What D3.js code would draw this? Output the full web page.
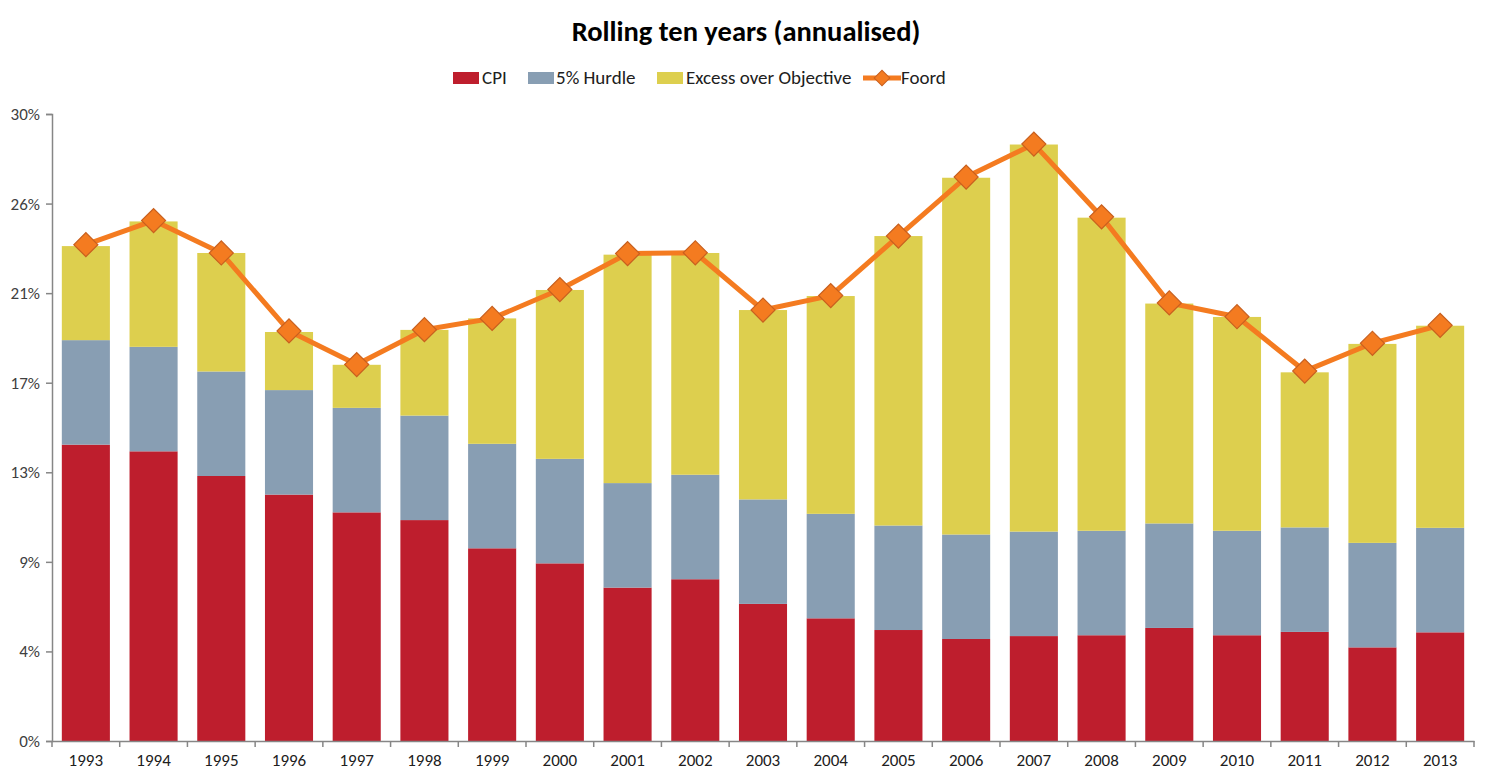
<!DOCTYPE html>
<html>
<head>
<meta charset="utf-8">
<script src="https://cdn.jsdelivr.net/npm/d3@7"></script>
<style>
  html, body { margin: 0; padding: 0; background: #fff; }
  svg { display: block; font-family: Carlito, Lato, "Open Sans", sans-serif; }
</style>
</head>
<body>
<svg id="chart" width="1492" height="782"></svg>
<script>
const years = ["1993","1994","1995","1996","1997","1998","1999","2000","2001","2002","2003","2004","2005","2006","2007","2008","2009","2010","2011","2012","2013"];
const cpi = [14.18, 13.86, 12.68, 11.79, 10.94, 10.57, 9.22, 8.50, 7.34, 7.74, 6.56, 5.87, 5.31, 4.88, 5.02, 5.06, 5.41, 5.06, 5.22, 4.48, 5.20];
const hurdle = [5, 5, 5, 5, 5, 5, 5, 5, 5, 5, 5, 5, 5, 5, 5, 5, 5, 5, 5, 5, 5];
const excess = [4.50, 6.00, 5.67, 2.78, 2.06, 4.10, 6.00, 8.08, 10.93, 10.61, 9.06, 10.42, 13.85, 17.07, 18.52, 14.98, 10.52, 10.23, 7.42, 9.52, 9.67];
const foord = [23.75, 24.90, 23.35, 19.62, 18.01, 19.68, 20.22, 21.60, 23.32, 23.36, 20.62, 21.31, 24.16, 26.98, 28.56, 25.08, 20.96, 20.30, 17.70, 19.03, 19.89];
const yTickValues = [0, 30/7, 60/7, 90/7, 120/7, 150/7, 180/7, 30];
const yTickLabels = ["0%","4%","9%","13%","17%","21%","26%","30%"];
const seriesNames = ["CPI", "5% Hurdle", "Excess over Objective", "Foord"];
const colors = ["#BE1E2D", "#889EB3", "#DDCF4E", "#F47B20"];

const svg = d3.select("#chart");
const m = { left: 52, right: 1474, top: 114, bottom: 741 };

const x = d3.scaleBand().domain(years).range([m.left, m.right]).paddingInner(0.29).paddingOuter(0.145);
const y = d3.scaleLinear().domain([0, 30]).range([m.bottom, m.top]);

const rows = years.map((yr, i) => ({ year: yr, cpi: cpi[i], hurdle: hurdle[i], excess: excess[i] }));
const stack = d3.stack().keys(["cpi", "hurdle", "excess"]);
const layers = stack(rows);

svg.append("g").selectAll("g").data(layers).join("g")
  .attr("fill", (d, i) => colors[i])
  .selectAll("rect").data(d => d).join("rect")
  .attr("x", d => x(d.data.year))
  .attr("width", x.bandwidth())
  .attr("y", d => y(d[1]))
  .attr("height", d => y(d[0]) - y(d[1]));

// Y axis
const yAxis = d3.axisLeft(y).tickValues(yTickValues).tickSize(6).tickPadding(6)
  .tickFormat((d, i) => yTickLabels[i]);
const gy = svg.append("g").attr("transform", `translate(${m.left},0)`).call(yAxis);
gy.select(".domain").attr("stroke", "#868686").attr("stroke-width", 1.5);
gy.selectAll(".tick line").attr("stroke", "#868686").attr("stroke-width", 1.5);
gy.selectAll(".tick text").attr("fill", "#404040").style("font-size", "17px")
  .style("font-family", "Carlito, Lato, sans-serif");

// X axis
const xAxis = d3.axisBottom(x).tickSize(0).tickPadding(13);
const gx = svg.append("g").attr("transform", `translate(0,${m.bottom})`).call(xAxis);
gx.select(".domain").attr("stroke", "#868686").attr("stroke-width", 1.5);
gx.selectAll(".tick text").attr("fill", "#202020").style("font-size", "17px")
  .style("font-family", "Carlito, Lato, sans-serif");
const bounds = years.map(yr => x(yr) - x.step() * x.paddingInner() / 2).concat([m.right]);
gx.append("g").selectAll("line").data(bounds).join("line")
  .attr("x1", d => d).attr("x2", d => d).attr("y1", 0).attr("y2", 6)
  .attr("stroke", "#868686").attr("stroke-width", 1.5);

// Foord line
const cx = yr => x(yr) + x.bandwidth() / 2;
const line = d3.line().x((d, i) => cx(years[i])).y(d => y(d));
svg.append("path").datum(foord).attr("d", line)
  .attr("fill", "none").attr("stroke", colors[3]).attr("stroke-width", 5)
  .attr("stroke-linejoin", "round");
svg.append("g").selectAll("rect").data(foord).join("rect")
  .attr("x", -8.5).attr("y", -8.5).attr("width", 17).attr("height", 17)
  .attr("transform", (d, i) => `translate(${cx(years[i])},${y(d)}) rotate(45)`)
  .attr("fill", colors[3]).attr("stroke", "#C8601F").attr("stroke-width", 1.2);

// Title
svg.append("text").attr("x", 746).attr("y", 41).attr("text-anchor", "middle")
  .style("font-size", "28.5px").style("font-weight", "bold").attr("fill", "#000")
  .text("Rolling ten years (annualised)");

// Legend
const legendItems = [
  { name: seriesNames[0], sx: 453, tx: 482, type: "box", c: colors[0] },
  { name: seriesNames[1], sx: 528, tx: 556, type: "box", c: colors[1] },
  { name: seriesNames[2], sx: 657, tx: 686, type: "box", c: colors[2] },
  { name: seriesNames[3], sx: 863, tx: 901, type: "line", c: colors[3] }
];
const lg = svg.append("g");
legendItems.forEach(it => {
  if (it.type === "box") {
    lg.append("rect").attr("x", it.sx).attr("y", 72).attr("width", 26).attr("height", 12).attr("fill", it.c);
  } else {
    lg.append("line").attr("x1", it.sx).attr("x2", it.sx + 38).attr("y1", 78).attr("y2", 78)
      .attr("stroke", it.c).attr("stroke-width", 5);
    lg.append("rect").attr("x", -5.5).attr("y", -5.5).attr("width", 11).attr("height", 11)
      .attr("transform", `translate(${it.sx + 19},78) rotate(45)`)
      .attr("fill", it.c).attr("stroke", "#C8601F").attr("stroke-width", 1);
  }
  lg.append("text").attr("x", it.tx).attr("y", 84).style("font-size", "19px").attr("fill", "#202020")
    .text(it.name);
});
</script>
</body>
</html>
